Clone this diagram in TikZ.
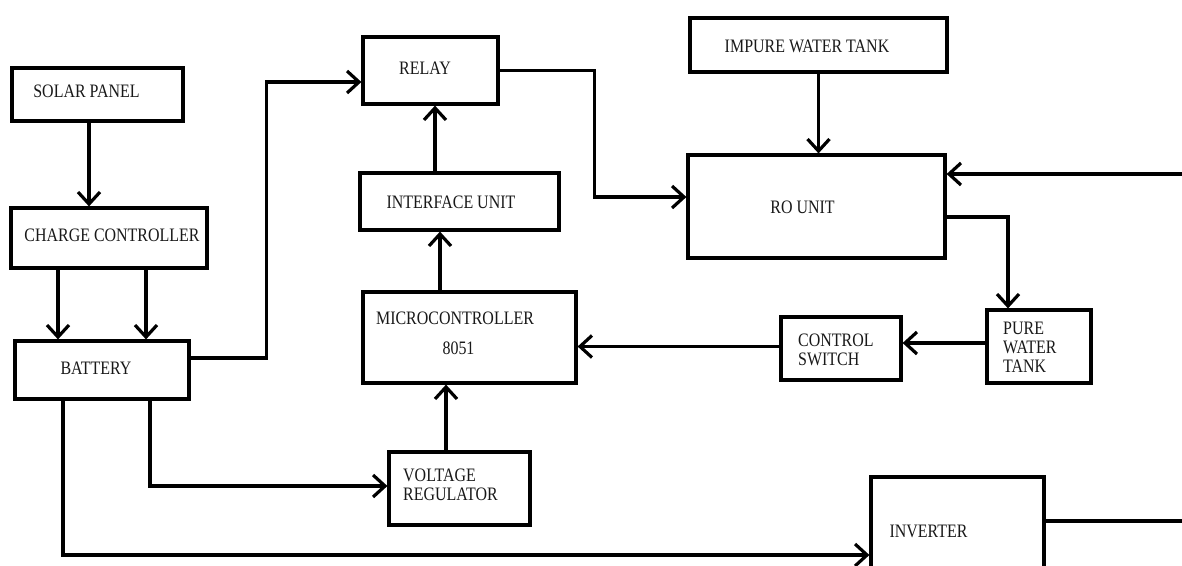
\documentclass[tikz,border=0pt]{standalone}
\usepackage{fontspec}
\setmainfont{Liberation Serif}[FakeStretch=0.84]
\usetikzlibrary{arrows.meta}
\begin{document}
\begin{tikzpicture}[x=1pt,y=-1pt,
  box/.style={draw=black,line width=3.2pt,rectangle,inner sep=0pt,fill=white},
  txt/.style={inner sep=0pt,font=\fontsize{19}{19}\selectfont,text=black!90,align=left},
  arr/.style={line width=3.2pt,-{Straight Barb[length=12pt,width=22pt]}},
  wire/.style={line width=3.2pt}]
\useasboundingbox (0,0) rectangle (1182,565);
\clip (0,0) rectangle (1182,565);
\fill[white] (0,0) rectangle (1182,565);
% boxes
\node[box,minimum width=171pt,minimum height=53pt] (solar) at (97.5,94.5) {};
\node[box,minimum width=196pt,minimum height=60pt] (charge) at (109,238) {};
\node[box,minimum width=174pt,minimum height=58pt] (battery) at (102,370) {};
\node[box,minimum width=135pt,minimum height=67pt] (relay) at (430.5,70.5) {};
\node[box,minimum width=199pt,minimum height=57pt] (interface) at (459.5,201.5) {};
\node[box,minimum width=213pt,minimum height=91pt] (micro) at (469.5,337.5) {};
\node[box,minimum width=141pt,minimum height=73pt] (vr) at (459.5,488.5) {};
\node[box,minimum width=257pt,minimum height=54pt] (impure) at (818.5,45) {};
\node[box,minimum width=257pt,minimum height=103pt] (ro) at (816.5,206.5) {};
\node[box,minimum width=104pt,minimum height=73pt] (pure) at (1039,346.5) {};
\node[box,minimum width=120pt,minimum height=63pt] (control) at (841,348.5) {};
\node[box,minimum width=173pt,minimum height=123pt] (inverter) at (957.5,538.5) {};
% texts
\node[txt] (solart) at (86.5,91) {SOLAR PANEL};
\node[txt] (charget) at (112,235) {CHARGE CONTROLLER};
\node[txt] (batteryt) at (96,368) {BATTERY};
\node[txt] (relayt) at (425,68) {RELAY};
\node[txt] (interfacet) at (451,202) {INTERFACE UNIT};
\node[txt] (microt) at (455,318) {MICROCONTROLLER};
\node[txt] (microt2) at (458.5,348) {8051};
\node[txt,anchor=west] (vrt) at (403,484.5) {VOLTAGE\\REGULATOR};
\node[txt] (impuret) at (807,46) {IMPURE WATER TANK};
\node[txt] (rot) at (802.5,207) {RO UNIT};
\node[txt,anchor=west] (controlt) at (798,350) {CONTROL\\SWITCH};
\node[txt,anchor=west] (puret) at (1003,347) {PURE\\WATER\\TANK};
\node[txt] (invertert) at (928.5,531) {INVERTER};
% free ends
\coordinate (rightin) at (1182,174);
\coordinate (rightout) at (1182,521);
% connectors
\draw[arr] ([xshift=-8.5pt]solar.south) -- ([xshift=-8.5pt]solar.south |- charge.north);
\draw[arr] ([xshift=-51pt]charge.south) -- ([xshift=-51pt]charge.south |- battery.north);
\draw[arr] ([xshift=37pt]charge.south) -- ([xshift=37pt]charge.south |- battery.north);
\draw[arr] ([yshift=12pt]battery.east) -- ++(76,0) |- ([yshift=-11.5pt]relay.west);
\draw[arr] (relay.east) -- ++(95,0) |- ([yshift=9.5pt]ro.west);
\draw[arr] ([xshift=-24.5pt]interface.north) -- ([xshift=-24.5pt]interface.north |- relay.south);
\draw[arr] ([xshift=-29.5pt]micro.north) -- ([xshift=-29.5pt]micro.north |- interface.south);
\draw[arr] ([xshift=-13.5pt]vr.north) -- ([xshift=-13.5pt]vr.north |- micro.south);
\draw[arr] (impure.south) -- (impure.south |- ro.north);
\draw[arr] (rightin) -- (rightin -| ro.east);
\draw[arr] ([yshift=-10.5pt]ro.east) -| ([xshift=-31pt]pure.north);
\draw[arr] ([yshift=3.5pt]pure.west) -- ([yshift=3.5pt]pure.west -| control.east);
\draw[arr] ([yshift=2pt]control.west) -- ([yshift=2pt]control.west -| micro.east);
\draw[arr] ([xshift=48pt]battery.south) |- ([yshift=2.5pt]vr.west);
\draw[arr] ([xshift=-39pt]battery.south) |- ([yshift=-16.5pt]inverter.west);
\draw[wire] ([yshift=17.5pt]inverter.east) -- (rightout);
\end{tikzpicture}
\end{document}
